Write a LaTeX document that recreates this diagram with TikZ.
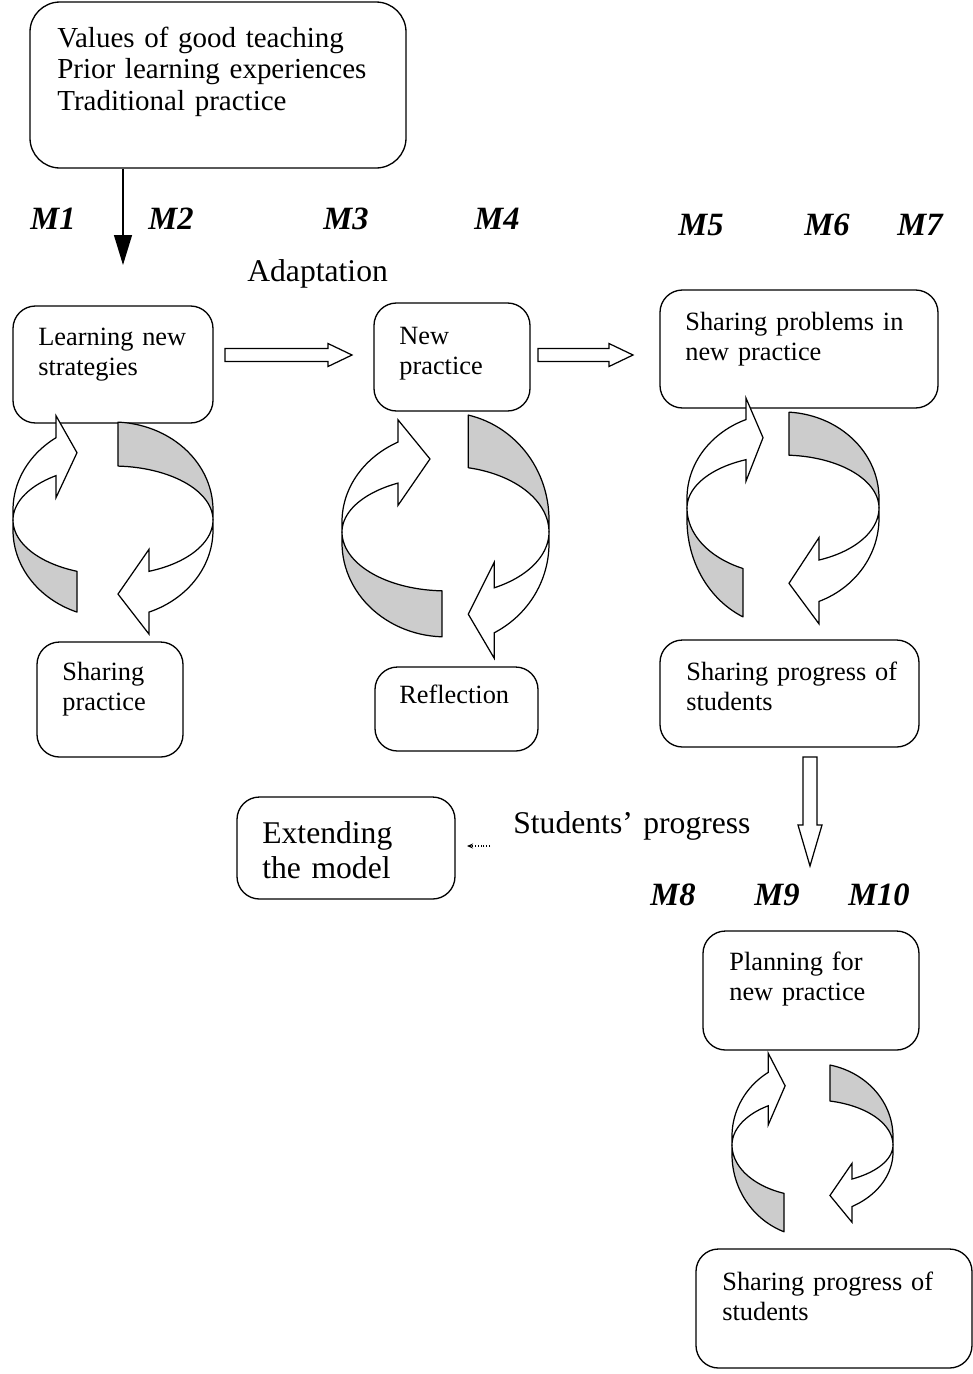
\documentclass[tikz,border=0pt]{standalone}
\usepackage{fontspec}
\setmainfont{Liberation Serif}
\usetikzlibrary{arrows.meta}

\pgfkeys{/cy/.is family}
\pgfkeys{/cy/.cd,
 cx/.store in=\cyCX, cy/.store in=\cyCY, sx/.store in=\cySX,
 sua/.store in=\cySUA, sug/.store in=\cySUG, slg/.store in=\cySLG, sla/.store in=\cySLA,
 ua/.store in=\cyUA, ut/.store in=\cyUT, ug/.store in=\cyUG, lg/.store in=\cyLG,
 la/.store in=\cyLA, lt/.store in=\cyLT}

\newcommand\cycdraw[1]{%
 \pgfkeys{/cy/.cd,#1}%
 \pgfmathsetmacro\cyA{360-acos(\cyUA/100)}%
 \pgfmathsetmacro\cyAt{360-acos(\cyUT/100)}%
 \pgfmathsetmacro\cyAo{-10+88*sin(\cyA)}%
 \pgfmathsetmacro\cyAi{54*sin(\cyA)}%
 \pgfmathsetmacro\cyAty{((\cyAo+\cyAi)/2+(-10+142*sin(\cyAt))/2)/2}%
 \pgfmathsetmacro\cyG{360-acos(\cyUG/100)}%
 \pgfmathsetmacro\cyL{acos(\cyLG/100)}%
 \pgfmathsetmacro\cyB{acos(\cyLA/100)}%
 \pgfmathsetmacro\cyBt{acos(\cyLT/100)}%
 \pgfmathsetmacro\cyBo{10+88*sin(\cyB)}%
 \pgfmathsetmacro\cyBi{55*sin(\cyB)}%
 \pgfmathsetmacro\cyBty{((\cyBo+\cyBi)/2+(10+143*sin(\cyBt))/2)/2}%
 \begin{scope}[shift={(\cyCX,\cyCY)}, xscale=\cySX]
  \begin{scope}[yscale=\cySUG]
   \filldraw[cycg] (\cyUG,{-10+88*sin(\cyG)})
     -- plot[domain=\cyG:360, samples=30] ({100*cos(\x)},{-10+88*sin(\x)})
     -- (100,0)
     -- plot[domain=360:\cyG, samples=30] ({100*cos(\x)},{54*sin(\x)}) -- cycle;
  \end{scope}
  \begin{scope}[yscale=\cySLG]
   \filldraw[cycg] (-100,0)
     -- plot[domain=180:\cyL, samples=30] ({100*cos(\x)},{55*sin(\x)})
     -- plot[domain=\cyL:180, samples=30] ({100*cos(\x)},{10+88*sin(\x)}) -- cycle;
  \end{scope}
  \begin{scope}[yscale=\cySUA]
   \filldraw[cycw] (-100,0)
     -- plot[domain=180:\cyA, samples=30] ({100*cos(\x)},{-10+88*sin(\x)})
     -- (\cyUA,{\cyAo-22}) -- (\cyUT,\cyAty) -- (\cyUA,{\cyAi+22})
     -- plot[domain=\cyA:180, samples=30] ({100*cos(\x)},{54*sin(\x)}) -- cycle;
  \end{scope}
  \begin{scope}[yscale=\cySLA]
   \filldraw[cycw] (100,0)
     -- plot[domain=0:\cyB, samples=30] ({100*cos(\x)},{10+88*sin(\x)})
     -- (\cyLA,{\cyBo+22}) -- (\cyLT,\cyBty) -- (\cyLA,{\cyBi-22})
     -- plot[domain=\cyB:0, samples=30] ({100*cos(\x)},{55*sin(\x)}) -- cycle;
  \end{scope}
 \end{scope}}

\newcommand\harrow[3]{%
 \draw[barrow] (#1,{#3-6.5}) -- ({#2-24},{#3-6.5}) -- ({#2-24},{#3-11.5}) -- (#2,#3)
   -- ({#2-24},{#3+11.5}) -- ({#2-24},{#3+6.5}) -- (#1,{#3+6.5}) -- cycle;}

\tikzset{cycg/.style={fill=black!20, draw=black, line width=0.7pt, line join=round}}
\tikzset{cycw/.style={fill=white, draw=black, line width=0.7pt, line join=miter}}
\tikzset{barrow/.style={fill=white, draw=black, line width=0.7pt, line join=miter}}
\tikzset{box/.style={draw, line width=0.75pt, rounded corners=0.45cm, fill=white, inner sep=0pt}}
\tikzset{mw/.style={minimum width=#1*0.02cm}}
\tikzset{mh/.style={minimum height=#1*0.02cm}}
\tikzset{txt/.style={anchor=base west, inner sep=0pt, align=left, text width=6cm, font=\fontsize{15pt}{17.5pt}\selectfont}}
\tikzset{toptxt/.style={anchor=base west, inner sep=0pt, align=left, text width=8cm, font=\fontsize{16.5pt}{18pt}\selectfont}}
\tikzset{bigtxt/.style={anchor=base west, inner sep=0pt, align=left, text width=6cm, font=\fontsize{18pt}{20.4pt}\selectfont}}
\tikzset{mlab/.style={anchor=base, inner sep=0pt, font=\fontsize{18.5pt}{21pt}\selectfont\bfseries\itshape}}

\begin{document}
\begin{tikzpicture}[x=0.02cm, y=-0.02cm]
\useasboundingbox (0,0) rectangle (973,1374);

% boxes
\node[box, rounded corners=0.6cm, mw=376, mh=166] (top) at (218,85) {};
\node[box, mw=200, mh=117] (learn) at (113,364.5) {};
\node[box, mw=156, mh=108] (newp) at (452,357) {};
\node[box, mw=278, mh=118] (prob) at (799,349) {};
\node[box, mw=146, mh=115] (sharep) at (110,699.5) {};
\node[box, mw=163, mh=84] (refl) at (456.5,709) {};
\node[box, mw=259, mh=107] (prog1) at (789.5,693.5) {};
\node[box, mw=218, mh=102] (ext) at (346,848) {};
\node[box, mw=216, mh=119] (plan) at (811,990.5) {};
\node[box, mw=276, mh=119] (prog2) at (834,1308.5) {};

% down arrow from top box
\coordinate (dend) at (123,265);
\draw[line width=0.7pt, -{Triangle[length=0.6cm, width=0.36cm]}] (top.south -| dend) -- (dend);

% block arrows
\harrow{225}{352}{355}
\harrow{538}{633}{355}
\draw[barrow] (803,757) -- (817,757) -- (817,825) -- (822,825) -- (810,866) -- (798,825) -- (803,825) -- cycle;

% small dotted arrow
\coordinate (sa1) at (490,846);
\coordinate (sa2) at (467,846);
\draw[densely dotted, line width=0.6pt, -{Stealth[length=0.12cm, width=0.1cm]}] (sa1) -- (sa2);

% cycles
\cycdraw{cx=113, cy=520, sx=1, sua=1, sug=1, slg=1, sla=1, ua=-57, ut=-36, ug=5, lg=-36, la=36, lt=5}
\cycdraw{cx=445.5, cy=532, sx=1.035, sua=1.02, sug=1.22, slg=1.07, sla=1.15, ua=-46, ut=-15, ug=22, lg=-3.4, la=47, lt=22}
\cycdraw{cx=783, cy=508, sx=0.96, sua=0.97, sug=0.98, slg=1.21, sla=1.02, ua=-38.5, ut=-20.8, ug=6.25, lg=-41.7, la=37.5, lt=6.25}
\cycdraw{cx=812.5, cy=1145, sx=0.805, sua=0.87, sug=0.834, slg=0.94, sla=0.71, ua=-55, ut=-34, ug=21.7, lg=-35.4, la=49, lt=21.7}

% texts
\node[toptxt] (t0) at (57,47) {Values of good teaching\\Prior learning experiences\\Traditional practice};
\node[txt] (t1) at (38,345) {Learning new\\strategies};
\node[txt] (t2) at (399,344) {New\\practice};
\node[txt] (t3) at (685,330) {Sharing problems in\\new practice};
\node[txt] (t4) at (62,680) {Sharing\\practice};
\node[txt] (t5) at (399,703) {Reflection};
\node[txt] (t6) at (686,680) {Sharing progress of\\students};
\node[bigtxt] (t7) at (262,843) {Extending\\the model};
\node[txt] (t8) at (729,970) {Planning for\\new practice};
\node[txt] (t9) at (722,1290) {Sharing progress of\\students};
\node[bigtxt] (adapt) at (247,281) {Adaptation};
\node[bigtxt] (sprog) at (513,833) {Students’ progress};

\node[mlab] (m1) at (53,229) {M1};
\node[mlab] (m2) at (171,229) {M2};
\node[mlab] (m3) at (346,229) {M3};
\node[mlab] (m4) at (497,229) {M4};
\node[mlab] (m5) at (701,235) {M5};
\node[mlab] (m6) at (827,235) {M6};
\node[mlab] (m7) at (920,235) {M7};
\node[mlab] (m8) at (673,905) {M8};
\node[mlab] (m9) at (777,905) {M9};
\node[mlab] (m10) at (879,905) {M10};
\end{tikzpicture}
\end{document}
